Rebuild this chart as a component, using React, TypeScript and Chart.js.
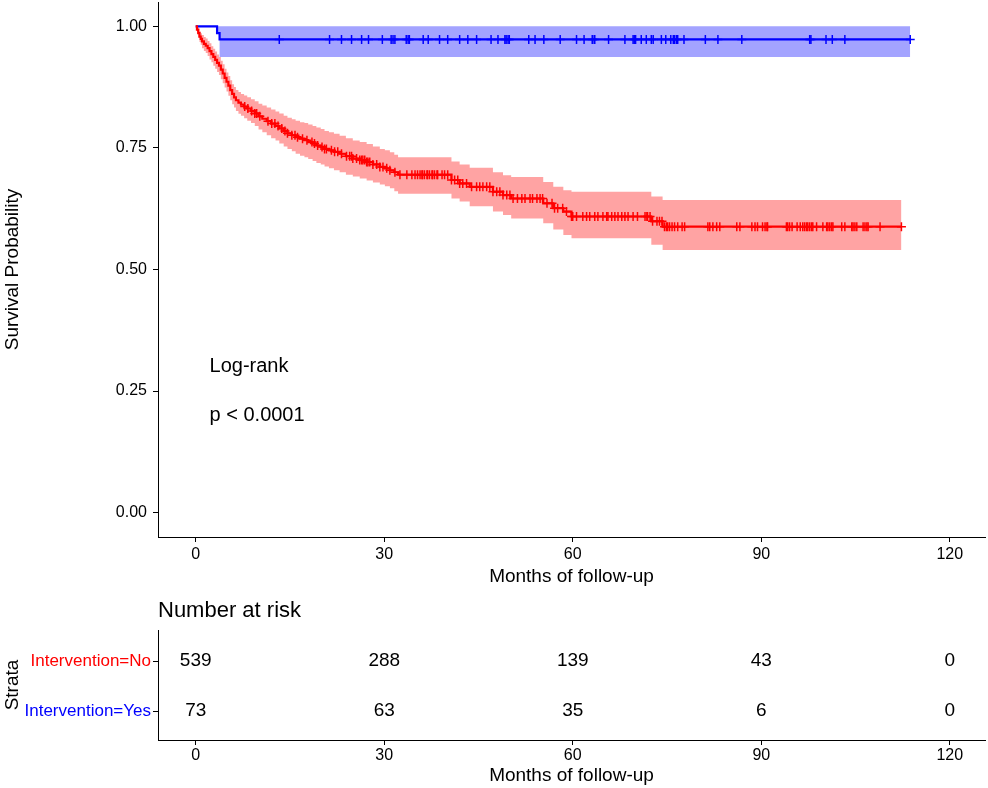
import React, { useEffect, useRef } from 'react';
import { Chart, registerables } from 'chart.js';

Chart.register(...registerables);

const FONT = "'Liberation Sans', Arial, Helvetica, sans-serif";
const RED = '#FF0000';
const BLUE = '#0000FF';
const RED_BAND = 'rgba(255,0,0,0.36)';
const BLUE_BAND = 'rgba(0,0,255,0.36)';

// axes
const xTicks = [0, 30, 60, 90, 120];
const yTicks = [0, 0.25, 0.5, 0.75, 1];
const X_MIN = -6;
const X_MAX = 125.6;
const Y_MIN = -0.05;
const Y_MAX = 1.05;

// Intervention=No : Kaplan-Meier steps (months, survival, CI upper, CI lower)
const noTimes = [
  0, 0.2, 0.4, 0.6, 0.8, 1.0,
  1.3, 1.6, 1.9, 2.2,
  2.5, 2.8, 3.1, 3.4, 3.7, 4.0,
  4.3, 4.6, 4.9, 5.2, 5.5, 5.8,
  6.1, 6.4, 6.8, 7.2, 7.7, 8.2,
  8.8, 9.4, 10.0, 10.6, 11.3, 12.0,
  12.7, 13.3, 14.0, 14.6, 15.3, 15.9,
  16.6, 17.3, 17.9, 18.6, 19.2, 19.9,
  20.5, 21.2, 22.0, 22.9, 23.9, 25.0,
  26.1, 27.2, 28.2, 29.3, 30.1, 30.9,
  31.6, 32.2,
  40.7, 42.0, 43.6, 47.3, 48.9, 50.2,
  55.3, 56.9, 58.5, 59.8, 72.5, 74.3,
  112.3,
];
const noSurv = [
  1, 0.993, 0.986, 0.979, 0.974, 0.969,
  0.964, 0.960, 0.955, 0.949,
  0.943, 0.937, 0.931, 0.925, 0.919, 0.911,
  0.903, 0.894, 0.886, 0.878, 0.869, 0.861,
  0.854, 0.848, 0.843, 0.839, 0.835, 0.831,
  0.826, 0.821, 0.815, 0.810, 0.805, 0.800,
  0.795, 0.790, 0.785, 0.780, 0.776, 0.772,
  0.769, 0.766, 0.762, 0.759, 0.755, 0.752,
  0.748, 0.745, 0.742, 0.738, 0.733, 0.728,
  0.725, 0.721, 0.716, 0.711, 0.708, 0.704,
  0.700, 0.695,
  0.684, 0.677, 0.670, 0.660, 0.653, 0.646,
  0.636, 0.626, 0.619, 0.609, 0.599, 0.588,
  0.588,
];
const noUpper = [
  1, 0.999, 0.995, 0.990, 0.986, 0.982,
  0.978, 0.975, 0.970, 0.965,
  0.959, 0.954, 0.948, 0.942, 0.937, 0.929,
  0.922, 0.913, 0.905, 0.898, 0.889, 0.881,
  0.875, 0.869, 0.865, 0.861, 0.858, 0.854,
  0.850, 0.846, 0.841, 0.837, 0.833, 0.829,
  0.825, 0.821, 0.816, 0.812, 0.809, 0.806,
  0.803, 0.801, 0.798, 0.795, 0.792, 0.789,
  0.785, 0.782, 0.779, 0.775, 0.770, 0.765,
  0.762, 0.758, 0.753, 0.748, 0.745, 0.741,
  0.736, 0.731,
  0.722, 0.716, 0.709, 0.700, 0.694, 0.690,
  0.680, 0.670, 0.663, 0.660, 0.650, 0.643,
  0.643,
];
const noLower = [
  1, 0.987, 0.977, 0.968, 0.962, 0.955,
  0.949, 0.945, 0.939, 0.932,
  0.926, 0.919, 0.913, 0.906, 0.900, 0.891,
  0.883, 0.874, 0.866, 0.857, 0.848, 0.840,
  0.833, 0.826, 0.820, 0.816, 0.811, 0.806,
  0.801, 0.795, 0.788, 0.782, 0.776, 0.770,
  0.765, 0.759, 0.753, 0.748, 0.743, 0.738,
  0.734, 0.731, 0.727, 0.723, 0.719, 0.716,
  0.712, 0.708, 0.704, 0.700, 0.695, 0.691,
  0.687, 0.683, 0.679, 0.675, 0.671, 0.667,
  0.661, 0.656,
  0.646, 0.640, 0.630, 0.619, 0.612, 0.605,
  0.595, 0.582, 0.571, 0.564, 0.551, 0.540,
  0.540,
];
const noCensor = [
  7.8, 8.3, 8.9, 9.4, 9.7, 10.2, 11.5, 12.1, 12.6, 13.1, 13.7, 14.2, 14.6, 15.3, 15.8, 16.2,
  17.0, 17.7, 18.5, 18.9, 19.4, 20.1, 20.5, 20.8, 21.6, 22.1, 22.6, 23.2, 24.0, 24.5, 24.8, 25.0, 25.6, 26.1, 26.4, 26.6, 26.9, 27.2, 27.4, 27.7, 28.2, 28.8, 29.3, 29.8, 30.4, 30.9, 31.7, 32.5, 33.6, 34.4, 34.9, 35.3, 35.7, 36.0, 36.1, 36.4, 36.8, 36.9, 37.2, 37.6, 37.7, 38.0, 38.4, 38.5, 39.2, 39.6, 40.1, 40.7, 41.2, 41.7,
  42.0, 42.5, 43.1, 43.9, 44.7, 45.2, 45.7, 46.3, 46.8, 47.3, 47.9, 48.4, 48.9, 49.5, 50.0, 50.5, 51.2, 51.9, 52.4, 53.2, 53.6, 54.3, 54.8, 55.2, 55.9, 56.7, 57.1, 57.6, 58.4, 59.0, 59.8, 60.0, 60.6,
  61.6, 62.2, 62.7, 63.5, 64.0, 64.8, 65.4, 65.6, 66.2, 66.7, 67.2, 67.8, 68.3, 68.8, 69.6, 70.3, 71.5, 71.8, 71.9, 72.3, 72.7, 73.4, 73.8, 74.2, 74.6, 74.9, 75.1, 75.4, 75.8, 76.2, 76.7, 77.4, 77.8,
  81.5, 81.8, 82.3, 82.9, 83.4, 86.1, 86.6, 88.5, 89.0, 89.4, 90.2, 90.6, 90.9, 91.0, 94.0, 94.2, 94.5, 94.9, 95.7, 96.2, 96.6, 96.9, 97.2, 97.4, 97.7, 98.0, 98.2, 98.8, 99.8, 100.4, 100.6, 100.9, 101.2, 101.4, 102.8, 103.3, 104.4, 104.6, 104.9, 105.2, 106.2, 106.5, 106.8, 107.0, 108.9, 112.3,
];

// Intervention=Yes
const yesTimes = [0, 3.4, 3.8, 113.7];
const yesSurv = [1, 0.986, 0.973, 0.973];
const yesUpper = [1, 1, 1, 1];
const yesLower = [1, 0.986, 0.937, 0.937];
const yesCensor = [
  13.3, 21.3, 23.2, 24.8, 26.4, 27.5, 29.7, 31.1, 31.4, 31.7, 33.5, 33.8, 34.0, 36.2, 37.0, 38.8, 40.1, 42.0, 43.3, 44.7, 47.0, 48.1, 49.2, 49.4, 49.7, 49.9, 53.0, 54.0, 55.4, 58.0,
  60.6, 61.8, 63.1, 63.2, 63.5, 65.7, 68.3, 69.6, 69.8, 70.0, 70.9, 71.7, 72.5, 72.8, 74.1, 74.8, 75.6, 76.0, 76.2, 76.5, 76.7, 77.7, 81.1, 83.1, 86.9, 97.7, 97.9, 100.3, 101.3, 103.3, 113.7,
];

// annotation
const LOGRANK_TEXT = 'Log-rank';
const PVAL_TEXT = 'p < 0.0001';
const ANNOT_X = 2.2;
const LOGRANK_Y = 0.30;
const PVAL_Y = 0.20;

// risk table
const riskTimes = [0, 30, 60, 90, 120];
const riskNo = [539, 288, 139, 43, 0];
const riskYes = [73, 63, 35, 6, 0];
const strataLabels = ['Intervention=Yes', 'Intervention=No'];
const strataRows = [1, 2];
const strataColors = [BLUE, RED];

function stepValue(times: number[], vals: number[], t: number) {
  let v = vals[0];
  for (let i = 0; i < times.length; i++) if (times[i] <= t) v = vals[i];
  return v;
}
const pts = (ts: number[], vs: number[]) => ts.map((t, i) => ({ x: t, y: vs[i] }));

const lineBase: any = { stepped: true, pointRadius: 0, pointHoverRadius: 0, tension: 0 };
const bandEdge: any = { ...lineBase, borderWidth: 0, borderColor: 'rgba(0,0,0,0)', order: 3 };

const axisGrid: any = { display: true, drawOnChartArea: false, drawTicks: true, tickLength: 5, color: '#000', tickColor: '#000', tickWidth: 1 };
const axisBorder: any = { display: true, color: '#000', width: 1 };

export default function App() {
  const mainRef = useRef<HTMLCanvasElement | null>(null);
  const riskRef = useRef<HTMLCanvasElement | null>(null);

  useEffect(() => {
    Chart.defaults.font.family = FONT;
    Chart.defaults.color = '#000';

    const annotPlugin = {
      id: 'annot',
      afterDatasetsDraw(chart: any) {
        const { ctx, scales } = chart;
        ctx.save();
        ctx.font = `20px ${FONT}`;
        ctx.fillStyle = '#000';
        ctx.textAlign = 'left';
        ctx.textBaseline = 'middle';
        ctx.fillText(LOGRANK_TEXT, scales.x.getPixelForValue(ANNOT_X), scales.y.getPixelForValue(LOGRANK_Y));
        ctx.fillText(PVAL_TEXT, scales.x.getPixelForValue(ANNOT_X), scales.y.getPixelForValue(PVAL_Y));
        ctx.restore();
      },
    };

    const main = new Chart(mainRef.current as HTMLCanvasElement, {
      type: 'line',
      data: {
        datasets: [
          { label: 'noUpper', data: pts(noTimes, noUpper), fill: false, ...bandEdge },
          { label: 'noLower', data: pts(noTimes, noLower), fill: '-1', backgroundColor: RED_BAND, ...bandEdge },
          { label: 'yesUpper', data: pts(yesTimes, yesUpper), fill: false, ...bandEdge },
          { label: 'yesLower', data: pts(yesTimes, yesLower), fill: '-1', backgroundColor: BLUE_BAND, ...bandEdge },
          { label: 'Intervention=No', data: pts(noTimes, noSurv), borderColor: RED, borderWidth: 2.2, fill: false, order: 2, ...lineBase },
          { label: 'Intervention=Yes', data: pts(yesTimes, yesSurv), borderColor: BLUE, borderWidth: 2.2, fill: false, order: 2, ...lineBase },
          {
            label: 'noCensor',
            data: noCensor.map((t) => ({ x: t, y: stepValue(noTimes, noSurv, t) })),
            showLine: false, pointStyle: 'cross', pointRadius: 4.5, pointHoverRadius: 4.5,
            pointBorderWidth: 1.5, pointBorderColor: RED, borderColor: RED, order: 1,
          },
          {
            label: 'yesCensor',
            data: yesCensor.map((t) => ({ x: t, y: stepValue(yesTimes, yesSurv, t) })),
            showLine: false, pointStyle: 'cross', pointRadius: 4.5, pointHoverRadius: 4.5,
            pointBorderWidth: 1.5, pointBorderColor: BLUE, borderColor: BLUE, order: 1,
          },
        ] as any,
      },
      options: {
        responsive: false,
        animation: false,
        devicePixelRatio: 1,
        events: [],
        layout: { autoPadding: false, padding: { left: 0, right: 3, top: 2, bottom: 0 } },
        plugins: { legend: { display: false }, tooltip: { enabled: false }, title: { display: false } },
        scales: {
          x: {
            type: 'linear',
            min: X_MIN,
            max: X_MAX,
            afterBuildTicks: (s: any) => { s.ticks = xTicks.map((v) => ({ value: v })); },
            afterFit: (s: any) => { s.height = 55; s.paddingLeft = 0; s.paddingRight = 0; s.paddingTop = 0; s.paddingBottom = 0; },
            ticks: { font: { size: 16 }, color: '#000', padding: 3, autoSkip: false, maxRotation: 0, callback: (v: any) => String(v) },
            grid: axisGrid,
            border: axisBorder,
            title: { display: true, text: 'Months of follow-up', font: { size: 19 }, color: '#000', padding: { top: 0, bottom: 4 } },
          },
          y: {
            type: 'linear',
            min: Y_MIN,
            max: Y_MAX,
            afterBuildTicks: (s: any) => { s.ticks = yTicks.map((v) => ({ value: v })); },
            afterFit: (s: any) => { s.width = 158; s.paddingTop = 0; s.paddingBottom = 0; s.paddingLeft = 0; s.paddingRight = 0; },
            ticks: { font: { size: 16 }, color: '#000', padding: 6, autoSkip: false, callback: (v: any) => Number(v).toFixed(2) },
            grid: axisGrid,
            border: axisBorder,
            title: { display: true, text: 'Survival Probability', font: { size: 19 }, color: '#000', padding: { top: 1, bottom: 0 } },
          },
        },
      } as any,
      plugins: [annotPlugin],
    });

    const riskPlugin = {
      id: 'riskText',
      afterDatasetsDraw(chart: any) {
        const { ctx, scales, chartArea } = chart;
        ctx.save();
        ctx.fillStyle = '#000';
        ctx.font = `22px ${FONT}`;
        ctx.textAlign = 'left';
        ctx.textBaseline = 'middle';
        ctx.fillText('Number at risk', chartArea.left, 19);
        ctx.font = `19px ${FONT}`;
        ctx.textAlign = 'center';
        riskTimes.forEach((t, i) => {
          const px = scales.x.getPixelForValue(t);
          ctx.fillText(String(riskNo[i]), px, scales.y.getPixelForValue(2));
          ctx.fillText(String(riskYes[i]), px, scales.y.getPixelForValue(1));
        });
        ctx.restore();
      },
    };

    const risk = new Chart(riskRef.current as HTMLCanvasElement, {
      type: 'scatter',
      data: { datasets: [{ data: [] }] },
      options: {
        responsive: false,
        animation: false,
        devicePixelRatio: 1,
        events: [],
        layout: { autoPadding: false, padding: { left: 0, right: 3, top: 38, bottom: 0 } },
        plugins: { legend: { display: false }, tooltip: { enabled: false } },
        scales: {
          x: {
            type: 'linear',
            min: X_MIN,
            max: X_MAX,
            afterBuildTicks: (s: any) => { s.ticks = xTicks.map((v) => ({ value: v })); },
            afterFit: (s: any) => { s.height = 48; s.paddingLeft = 0; s.paddingRight = 0; s.paddingTop = 0; s.paddingBottom = 0; },
            ticks: { font: { size: 16 }, color: '#000', padding: 1, autoSkip: false, maxRotation: 0, callback: (v: any) => String(v) },
            grid: axisGrid,
            border: axisBorder,
            title: { display: true, text: 'Months of follow-up', font: { size: 19 }, color: '#000', padding: { top: 0, bottom: 1 } },
          },
          y: {
            type: 'linear',
            min: 0.42,
            max: 2.62,
            afterBuildTicks: (s: any) => { s.ticks = strataRows.map((v) => ({ value: v })); },
            afterFit: (s: any) => { s.width = 158; s.paddingTop = 0; s.paddingBottom = 0; s.paddingLeft = 0; s.paddingRight = 0; },
            ticks: {
              font: { size: 17 },
              padding: 2,
              autoSkip: false,
              color: (c: any) => {
                const v = c && c.tick ? c.tick.value : 1;
                const i = strataRows.indexOf(v);
                return i >= 0 ? strataColors[i] : '#000';
              },
              callback: (v: any) => {
                const i = strataRows.indexOf(Number(v));
                return i >= 0 ? strataLabels[i] : '';
              },
            },
            grid: axisGrid,
            border: axisBorder,
            title: { display: true, text: 'Strata', font: { size: 19 }, color: '#000', padding: { top: 1, bottom: 0 } },
          },
        },
      } as any,
      plugins: [riskPlugin],
    });

    return () => {
      main.destroy();
      risk.destroy();
    };
  }, []);

  return (
    <div style={{ position: 'absolute', left: 0, top: 0, width: 988, height: 788, background: '#fff' }}>
      <canvas ref={mainRef} width={988} height={592} style={{ position: 'absolute', left: 0, top: 0, width: 988, height: 592 }} />
      <canvas ref={riskRef} width={988} height={196} style={{ position: 'absolute', left: 0, top: 592, width: 988, height: 196 }} />
    </div>
  );
}
